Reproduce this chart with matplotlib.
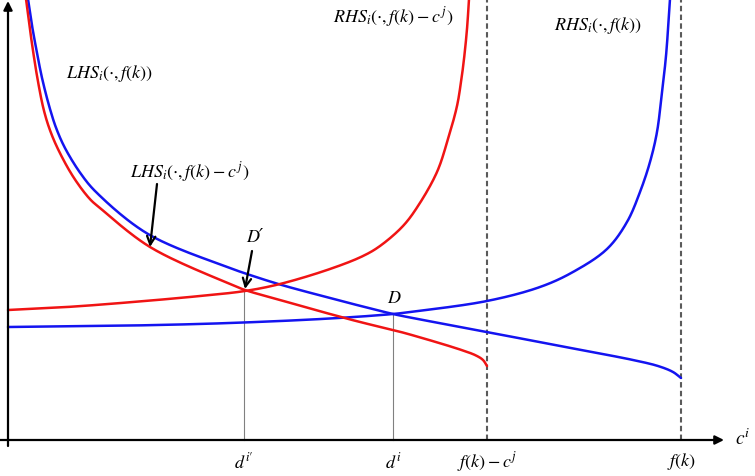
import matplotlib
matplotlib.use("Agg")
import numpy as np
import matplotlib.pyplot as plt

plt.rcParams['mathtext.fontset'] = 'stix'
plt.rcParams['font.family'] = ['STIXGeneral', 'DejaVu Serif']

# ---- data (units: horizontal distance from origin, height above the c^i axis) ----
lhs_f_x = [20, 23.75, 28.25, 34.25, 42, 48.5, 57.5, 73, 88, 140, 222, 239, 272, 322, 352, 385, 402, 479, 552, 592, 625, 650, 665, 673]
lhs_f_y = [441, 416, 391, 361, 331, 311, 291, 266, 248, 206, 172, 166, 155.5, 142, 134.2, 126, 122.5, 108, 94, 86.5, 80, 74, 68, 62]

lhs_fc_x = [18, 21.25, 24.75, 29.55, 35.55, 41.55, 49.95, 65.35, 81.85, 92, 142, 222, 237, 272, 322, 352, 385, 402, 452, 468, 475, 479]
lhs_fc_y = [441, 416, 391, 361, 331, 311, 291, 263, 241, 232, 193, 156, 150, 140, 126, 118, 110, 105.5, 90.5, 84.5, 80, 74]

rhs_fc_x = [0, 59, 125, 192, 237, 272, 322, 355, 372, 395, 410, 429, 440, 449, 453, 456, 459, 461]
rhs_fc_y = [130, 133, 138, 144, 149, 156, 171, 184, 194, 214, 234, 268, 301, 334, 358, 381, 411, 441]

rhs_f_x = [0, 125, 222, 322, 385, 402, 479, 532, 565, 599, 619, 632, 642, 649, 654, 658, 662]
rhs_f_y = [113, 114.5, 117, 121.5, 126, 128, 139, 153, 168, 191, 218, 248, 278, 308, 348, 384, 441]

cap_x = [479, 673]          # f(k) - c^j, f(k)
eq_x = [236, 385]           # d^{i'}, d^i
eq_y = [150, 125]           # D', D

tick_labels = [r"$d^{i\prime}$", r"$d^{i}$", r"$f(k)-c^{j}$", r"$f(k)$"]
tick_pos = [eq_x[0], eq_x[1], cap_x[0], cap_x[1]]

curve_labels = {
    "lhs_f": (r"$LHS_i(\cdot,f(k))$", 101, 367),
    "rhs_fc": (r"$RHS_i(\cdot,f(k)-c^{\,j})$", 385, 424),
    "rhs_f": (r"$RHS_i(\cdot,f(k))$", 590, 416),
    "lhs_fc": (r"$LHS_i(\cdot,f(k)-c^{\,j})$", 182, 269),
    "D": (r"$D$", 386, 142),
}
point_label_Dp = ("D\u2032", 247, 203)


def smooth_path(xs, ys, n=24, alpha=0.5):
    """Centripetal Catmull-Rom path through the given points (display only)."""
    P = np.column_stack([xs, ys]).astype(float)
    P = np.vstack([2 * P[0] - P[1], P, 2 * P[-1] - P[-2]])
    segs = []
    for i in range(1, len(P) - 2):
        p0, p1, p2, p3 = P[i - 1], P[i], P[i + 1], P[i + 2]
        t0 = 0.0
        t1 = t0 + np.linalg.norm(p1 - p0) ** alpha
        t2 = t1 + np.linalg.norm(p2 - p1) ** alpha
        t3 = t2 + np.linalg.norm(p3 - p2) ** alpha
        t = np.linspace(t1, t2, n)[:, None]
        A1 = (t1 - t) / (t1 - t0) * p0 + (t - t0) / (t1 - t0) * p1
        A2 = (t2 - t) / (t2 - t1) * p1 + (t - t1) / (t2 - t1) * p2
        A3 = (t3 - t) / (t3 - t2) * p2 + (t - t2) / (t3 - t2) * p3
        B1 = (t2 - t) / (t2 - t0) * A1 + (t - t0) / (t2 - t0) * A2
        B2 = (t3 - t) / (t3 - t1) * A2 + (t - t1) / (t3 - t1) * A3
        C = (t2 - t) / (t2 - t1) * B1 + (t - t1) / (t2 - t1) * B2
        segs.append(C if i == 1 else C[1:])
    C = np.vstack(segs)
    return C[:, 0], C[:, 1]


# ---- figure ----
fig = plt.figure(figsize=(7.55, 4.77), dpi=100)
ax = fig.add_axes([0, 0, 1, 1])
ax.set_xlim(-8, 747)
ax.set_ylim(-36, 441)
ax.axis('off')

lw = 1.8
blue = '#1414f0'
red = '#f01414'
for xs, ys, c in [(lhs_f_x, lhs_f_y, blue), (rhs_f_x, rhs_f_y, blue),
                  (lhs_fc_x, lhs_fc_y, red), (rhs_fc_x, rhs_fc_y, red)]:
    sx, sy = smooth_path(xs, ys)
    ax.plot(sx, sy, color=c, lw=lw, solid_capstyle='round', zorder=3)

for xc in cap_x:
    ax.plot([xc, xc], [0, 441], color='#5a5a5a', lw=1.5, dashes=(2.6, 1.6), zorder=2)

for xe, ye in zip(eq_x, eq_y):
    ax.plot([xe, xe], [0, ye], color='#808080', lw=0.8, zorder=2)

# axes with arrows
ax.annotate('', xy=(716, 0), xytext=(-8, 0),
            arrowprops=dict(arrowstyle='-|>', lw=1.6, color='black', mutation_scale=13,
                            shrinkA=0, shrinkB=0), zorder=4)
ax.annotate('', xy=(0, 439), xytext=(0, -6),
            arrowprops=dict(arrowstyle='-|>', lw=1.6, color='black', mutation_scale=13,
                            shrinkA=0, shrinkB=0), zorder=4)

fs = 13
for key, (txt, x, y) in curve_labels.items():
    ax.text(x, y, txt, fontsize=fs, ha='center', va='center', zorder=5)
ax.text(point_label_Dp[1], point_label_Dp[2], point_label_Dp[0], fontsize=fs,
        fontstyle='italic', family=['STIXGeneral', 'DejaVu Serif'],
        ha='center', va='center', zorder=5)

for p, t in zip(tick_pos, tick_labels):
    ax.text(p, -21, t, fontsize=fs, ha='center', va='center')
ax.text(727, 2, r"$c^{i}$", fontsize=fs + 1, ha='left', va='center')

# pointer arrows
ax.annotate('', xy=(142, 193), xytext=(149, 256),
            arrowprops=dict(arrowstyle='->,head_length=0.6,head_width=0.3', lw=1.6,
                            color='black', shrinkA=0, shrinkB=0), zorder=5)
ax.annotate('', xy=(237, 151), xytext=(244, 189),
            arrowprops=dict(arrowstyle='->,head_length=0.6,head_width=0.3', lw=1.6,
                            color='black', shrinkA=0, shrinkB=0), zorder=5)

fig.savefig('out.png', dpi=100)
